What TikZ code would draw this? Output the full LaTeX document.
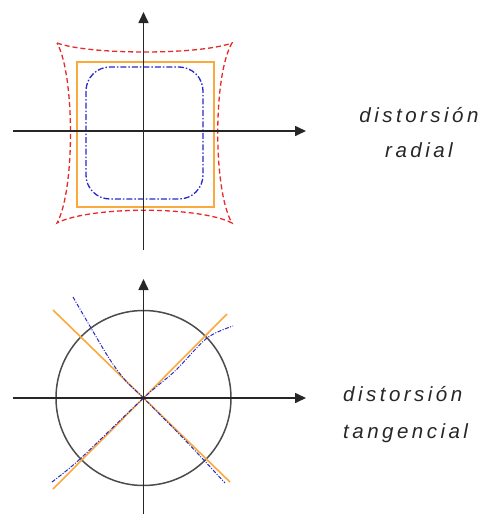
\documentclass[tikz,border=0pt]{standalone}
\usepackage{fontspec}
\setmainfont{Liberation Sans}
\newfontfamily\lblfont[LetterSpace=17]{Liberation Sans}
\usetikzlibrary{arrows.meta}
\definecolor{dorange}{RGB}{250,170,60}
\definecolor{dred}{RGB}{235,40,40}
\definecolor{dblue}{RGB}{40,40,200}
\begin{document}
\begin{tikzpicture}[x=1pt,y=-1pt,
  axis/.style={line width=1.6pt,black!85,-{Triangle[length=11pt,width=10pt]}},
  ideal/.style={line width=1.6pt,dorange},
  pincush/.style={line width=1.3pt,dred,dash pattern=on 5pt off 3pt},
  barrel/.style={line width=1.3pt,dblue,dash pattern=on 6pt off 2pt on 1.5pt off 2pt},
  tang/.style={line width=1pt,dblue,dash pattern=on 4pt off 1.5pt on 1pt off 1.5pt},
  lbl/.style={font=\lblfont\itshape\fontsize{20.5}{36}\selectfont,inner sep=0pt,text=black!85}]
\useasboundingbox (0,0) rectangle (481,514);
% ---------- radial ----------
\coordinate (o1) at (143.5,131);
\coordinate (x1a) at (13,131);
\coordinate (x1b) at (306,131);
\coordinate (y1a) at (143.5,250);
\coordinate (y1b) at (143.5,12);
\draw[ideal] (77,62) rectangle (214,207);
\draw[barrel,rounded corners=24pt] (86,67) rectangle (203,199);
\draw[pincush] (57,43) .. controls (90,55) and (199,55) .. (232,43)
  .. controls (213,75) and (213,191) .. (232,223)
  .. controls (199,206) and (90,206) .. (57,223)
  .. controls (75,191) and (75,75) .. (57,43) -- cycle;
\draw[axis] (x1a) -- (x1b);
\draw[axis] (y1a) -- (y1b);
\node[lbl,anchor=base] (t1) at (419,122) {distorsión};
\node[lbl,anchor=base] (t2) at (419,157) {radial};
% ---------- tangencial ----------
\coordinate (o2) at (143.5,398);
\coordinate (x2a) at (13,398);
\coordinate (x2b) at (306,398);
\coordinate (y2a) at (143.5,514);
\coordinate (y2b) at (143.5,279);
\draw[line width=1.5pt,black!70] (o2) circle (87.5);
\draw[ideal] (53,310) -- (o2) -- (230,482);
\draw[ideal] (53,489) -- (o2) -- (227,314);
\draw[tang] plot[smooth] coordinates {(73,297) (107,355) (125,380) (o2) (185,440) (225,483)};
\draw[tang] plot[smooth] coordinates {(52,482) (80,459) (o2) (175,371) (207,338) (233,326)};
\draw[axis] (x2a) -- (x2b);
\draw[axis] (y2a) -- (y2b);
\node[lbl,anchor=base west] (t3) at (343,401) {distorsión};
\node[lbl,anchor=base west] (t4) at (343,438) {tangencial};
\end{tikzpicture}
\end{document}
